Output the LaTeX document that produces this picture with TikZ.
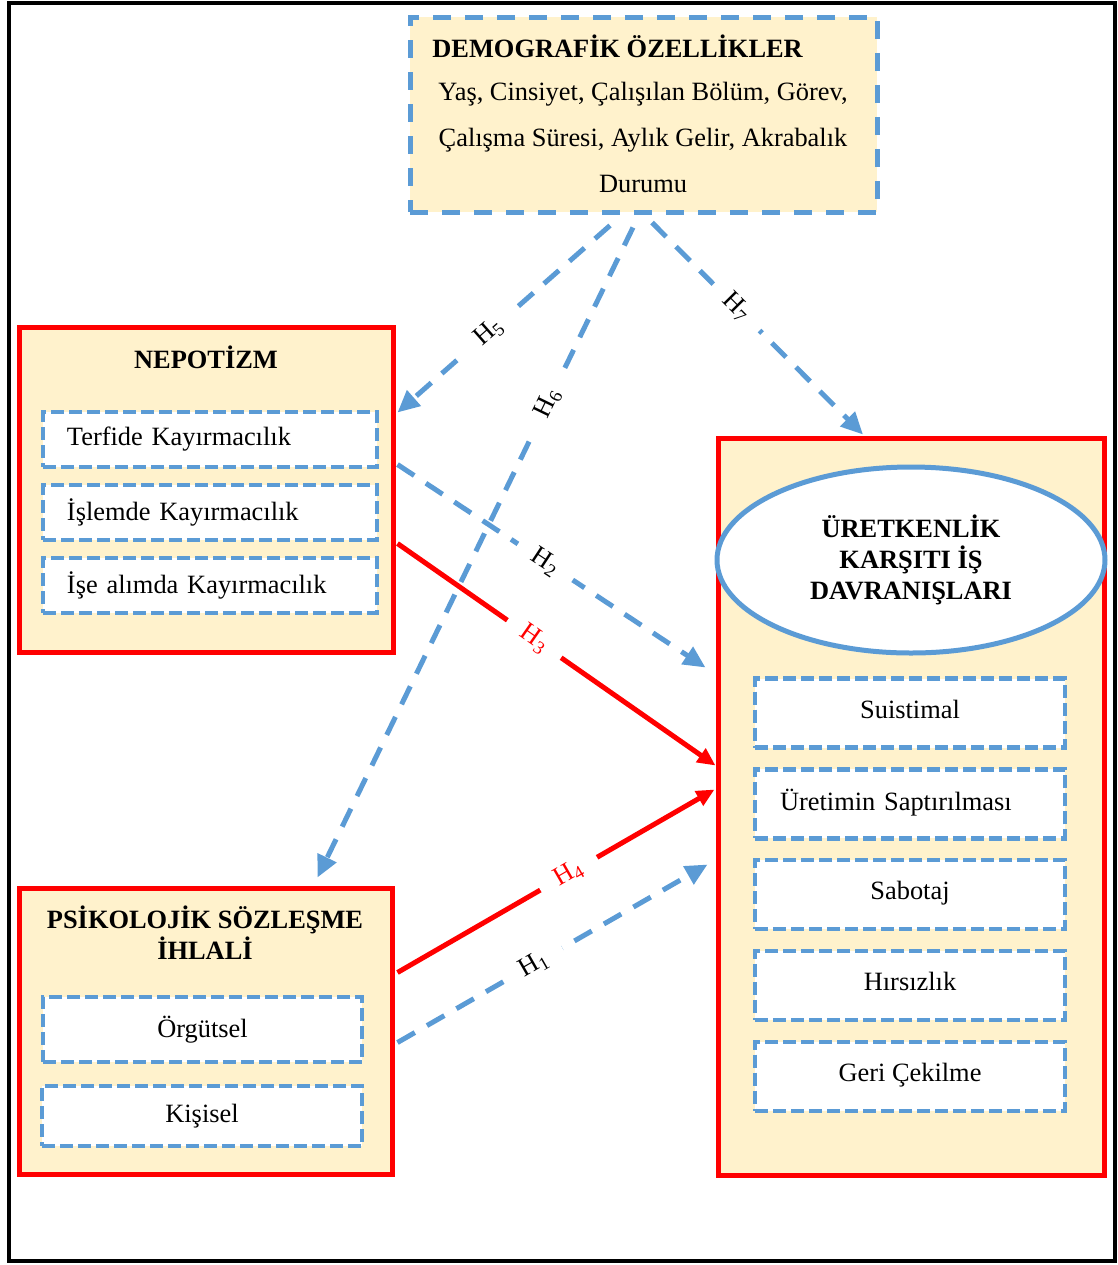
\documentclass[tikz,border=0pt]{standalone}
\usepackage{fontspec}
\setmainfont{Liberation Serif}
\usetikzlibrary{arrows.meta,positioning,calc,shapes.geometric}
\definecolor{dashblue}{RGB}{91,155,213}
\definecolor{boxcream}{RGB}{255,242,204}
\definecolor{hypred}{RGB}{255,0,0}
\newcommand{\diagfont}{\fontsize{13.2pt}{15.5pt}\selectfont}

\begin{document}
\begin{tikzpicture}[x=0.5pt,y=-0.5pt,font=\diagfont,
  mainbox/.style={draw=hypred,fill=boxcream,line width=2.5pt,inner sep=0pt},
  subbox/.style={draw=dashblue,fill=white,line width=2.2pt,dash pattern=on 6.5pt off 2.5pt,outer sep=0pt},
  bluearr/.style={-{Triangle[length=11pt,width=10pt]},draw=dashblue,line width=2.5pt,dash pattern=on 10pt off 7pt},
  redarr/.style={-{Triangle[length=9pt,width=8pt]},draw=hypred,line width=2.5pt},
  hlab/.style={fill=white,sloped,inner xsep=9pt,inner ysep=6pt}]

\useasboundingbox (0,0) rectangle (1118,1265);
\draw[line width=2.2pt] (9,3) rectangle (1115,1261);

% demografik ozellikler
\node[draw=dashblue,fill=boxcream,line width=2.5pt,dash pattern=on 9pt off 7pt,minimum width=233.5pt,minimum height=97.5pt] (demo) at (643.5,114.5) {};
\node[anchor=west,inner sep=0pt,font=\diagfont\bfseries] (demotitle) at (432,46) {DEMOGRAFİK ÖZELLİKLER};
\node[align=center,font=\fontsize{13.2pt}{23pt}\selectfont] (demotext) at (643,137) {Yaş, Cinsiyet, Çalışılan Bölüm, Görev,\\Çalışma Süresi, Aylık Gelir, Akrabalık\\Durumu};

% nepotizm
\node[mainbox,minimum width=187pt,minimum height=162.5pt] (nepo) at (206,489.5) {};
\node[font=\diagfont\bfseries] (nepotitle) at (206,357) {NEPOTİZM};
\node[subbox,text width=143pt,inner xsep=12pt,align=left,minimum height=27.5pt] (terfi) at (210,439.5) {Terfide Kayırmacılık};
\node[subbox,text width=143pt,inner xsep=12pt,align=left,minimum height=27.5pt,below=9pt of terfi] (islem) {İşlemde Kayırmacılık};
\node[subbox,text width=143pt,inner xsep=12pt,align=left,minimum height=27.5pt,below=9pt of islem] (isealim) {İşe alımda Kayırmacılık};

% psikolojik sozlesme ihlali
\node[mainbox,minimum width=186.5pt,minimum height=143pt] (psk) at (205.5,1031) {};
\node[font=\diagfont\bfseries,align=center] (psktitle) at (205,932.5) {PSİKOLOJİK SÖZLEŞME\\İHLALİ};
\node[subbox,minimum width=159.5pt,minimum height=32.5pt] (orgut) at (202.5,1029.5) {Örgütsel};
\node[subbox,minimum width=160pt,minimum height=30pt] (kisi) at (202,1116) {Kişisel};

% uretkenlik karsiti is davranislari
\node[mainbox,minimum width=193pt,minimum height=368.5pt] (ukid) at (911,806.5) {};
\node[ellipse,draw=dashblue,fill=white,line width=2.5pt,minimum width=194pt,minimum height=93pt,inner sep=0pt,align=center,font=\diagfont\bfseries] (ukidhead) at (911,560) {ÜRETKENLİK\\KARŞITI İŞ\\DAVRANIŞLARI};
\node[subbox,minimum width=155pt,minimum height=34.5pt,text depth=4pt] (suis) at (910,713) {Suistimal};
\node[subbox,minimum height=34.5pt,text depth=4pt,text width=130pt,inner xsep=12.5pt,align=left,below=10.9pt of suis] (saptir) {Üretimin Saptırılması};
\node[subbox,minimum width=155pt,minimum height=34.5pt,text depth=4pt,below=10.9pt of saptir] (sabotaj) {Sabotaj};
\node[subbox,minimum width=155pt,minimum height=34.5pt,text depth=4pt,below=10.9pt of sabotaj] (hirsiz) {Hırsızlık};
\node[subbox,minimum width=155pt,minimum height=34.5pt,text depth=4pt,below=10.9pt of hirsiz] (geri) {Geri Çekilme};

% hipotezler
\draw[bluearr] ($(demo.south)+(-33.5,11)$) -- node[hlab,pos=.57] {H\textsubscript{5}} ($(nepo.north east)+(2,88)$);
\draw[bluearr] ($(demo.south)+(-10.5,13)$) -- node[hlab,pos=.27] {H\textsubscript{6}} ($(psk.north)+(112,-8)$);
\draw[bluearr] ($(demo.south)+(8.5,8)$) -- node[hlab,pos=.4] {H\textsubscript{7}} ($(ukid.north)+(-48,-1)$);
\draw[bluearr] ($(nepo.north east)+(2,140)$) -- node[hlab,pos=.48] {H\textsubscript{2}} ($(ukid.north west)+(-10,232)$);
\draw[redarr] ($(nepo.north east)+(2,219)$) -- node[hlab,pos=.43,text=hypred] {H\textsubscript{3}} ($(ukid.north west)+(0,330)$);
\draw[redarr] ($(psk.north east)+(3,87)$) -- node[hlab,pos=.54,text=hypred] {H\textsubscript{4}} ($(ukid.north west)+(-1,354)$);
\draw[bluearr] ($(psk.north east)+(3,157)$) -- node[hlab,pos=.44] {H\textsubscript{1}} ($(ukid.north west)+(-8,429)$);
\end{tikzpicture}
\end{document}
